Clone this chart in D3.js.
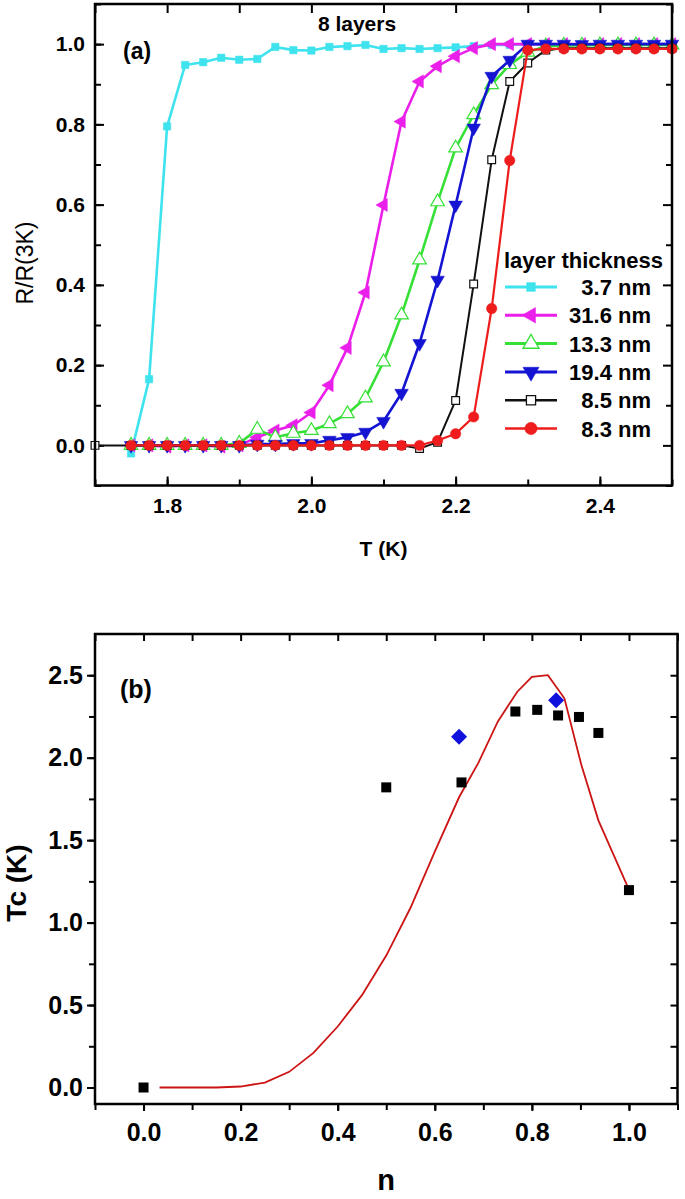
<!DOCTYPE html>
<html><head><meta charset="utf-8">
<script src="https://cdn.jsdelivr.net/npm/d3@7"></script>
<style>
html,body{margin:0;padding:0;background:#fff;}
text{font-family:"Liberation Sans",Arial,sans-serif;}
</style></head>
<body>
<svg id="chart" width="685" height="1199"></svg>
<script>
// ---------- Panel (a) data ----------
const temps = [1.70,1.75,1.775,1.80,1.825,1.85,1.875,1.90,1.925,1.95,1.975,2.00,2.025,2.05,2.075,2.10,2.125,2.15,2.175,2.20,2.225,2.25,2.275,2.30,2.325,2.35,2.375,2.40,2.425,2.45,2.475,2.50];
const cyan37 = [null,-0.02,0.165,0.795,0.948,0.955,0.966,0.961,0.963,0.993,0.985,0.984,0.993,0.995,0.998,0.988,0.99,0.988,0.99,0.992,0.995,0.998,0.998,1.0,1.0,0.999,1.0,1.0,1.0,1.0,1.0,1.0];
const magenta316 = [null,0.0,0.0,-0.003,0.0,0.0,-0.003,0.0,0.02,0.037,0.05,0.082,0.15,0.243,0.381,0.599,0.807,0.907,0.945,0.97,0.99,1.0,1.0,1.0,1.0,1.0,1.0,1.0,1.0,1.0,1.0,1.0];
const green133 = [null,0.0,0.0,0.0,0.0,0.0,0.0,0.005,0.04,0.02,0.03,0.037,0.054,0.079,0.118,0.208,0.325,0.462,0.607,0.741,0.824,0.899,0.949,0.98,0.995,0.997,0.997,0.998,0.998,0.998,0.998,0.998];
const blue194 = [null,0.0,0.0,0.0,0.0,0.0,0.0,0.0,0.003,0.003,0.005,0.005,0.013,0.02,0.033,0.06,0.13,0.254,0.412,0.599,0.791,0.92,0.96,1.0,1.0,1.0,0.999,1.0,1.0,1.0,1.0,1.0];
const black85 = [0.0,0.0,0.0,0.0,0.0,0.0,0.0,0.0,0.0,0.0,0.0,0.0,0.0,0.0,0.0,0.0,0.0,-0.008,0.008,0.112,0.402,0.712,0.907,0.953,0.985,0.99,0.99,0.99,0.99,0.99,0.99,0.99];
const red83 = [null,0.0,0.0,0.0,0.0,0.0,0.0,0.0,0.0,0.0,0.0,0.0,0.0,0.0,0.0,0.0,0.0,0.0,0.012,0.029,0.071,0.341,0.71,0.985,0.988,0.988,0.988,0.988,0.988,0.988,0.988,0.988];
const seriesNames = ["3.7 nm","31.6 nm","13.3 nm","19.4 nm","8.5 nm","8.3 nm"];
const xTicksA = [1.8,2.0,2.2,2.4];
const yTicksA = [0.0,0.2,0.4,0.6,0.8,1.0];

// ---------- Panel (b) data ----------
const nExp = [0.0,0.5,0.655,0.766,0.811,0.854,0.897,0.937,1.0];
const tcExp = [0.0,1.82,1.85,2.28,2.29,2.256,2.247,2.15,1.197];
const nBlue = [0.65,0.85];
const tcBlue = [2.127,2.348];
const nFit = [0.033,0.1,0.15,0.2,0.25,0.3,0.35,0.4,0.45,0.5,0.55,0.6,0.65,0.69,0.73,0.77,0.80,0.833,0.867,0.902,0.937,1.0];
const tcFit = [0.0,0.0,0.0,0.006,0.03,0.095,0.21,0.37,0.56,0.8,1.09,1.43,1.76,1.97,2.22,2.40,2.49,2.50,2.36,1.955,1.62,1.20];
const xTicksB = [0.0,0.2,0.4,0.6,0.8,1.0];
const yTicksB = [0.0,0.5,1.0,1.5,2.0,2.5];

const svg = d3.select("#chart");
const FONT = '"Liberation Sans",Arial,sans-serif';

// ================= Panel (a) =================
const xa = d3.scaleLinear().domain([1.7,2.5]).range([95,672]);
const ya = d3.scaleLinear().domain([-0.1,1.1]).range([485.5,4]);
const ga = svg.append("g");

function styleAxis(g, fs){
  g.select(".domain").remove();
  g.selectAll(".tick line").attr("stroke","#000").attr("stroke-width",2);
  g.selectAll(".tick text").attr("font-size",fs).attr("font-weight","bold").attr("fill","#000").attr("font-family",FONT);
}
const minorXA = d3.range(17,26).map(d=>d/10);
const minorYA = d3.range(-1,12).map(d=>d/10);
// bottom (inside)
ga.append("g").attr("transform","translate(0,485.5)")
  .call(d3.axisBottom(xa).tickValues(minorXA).tickSize(-6).tickFormat(""))
  .call(g=>styleAxis(g,21));
ga.append("g").attr("transform","translate(0,485.5)")
  .call(d3.axisBottom(xa).tickValues(xTicksA).tickSize(-9).tickPadding(13).tickFormat(d3.format(".1f")))
  .call(g=>styleAxis(g,21));
// top (inside)
ga.append("g").attr("transform","translate(0,4)")
  .call(d3.axisTop(xa).tickValues(minorXA).tickSize(-9).tickFormat(""))
  .call(g=>styleAxis(g,21));
// left (inside)
ga.append("g").attr("transform","translate(95,0)")
  .call(d3.axisLeft(ya).tickValues(minorYA).tickSize(-6).tickFormat(""))
  .call(g=>styleAxis(g,21));
ga.append("g").attr("transform","translate(95,0)")
  .call(d3.axisLeft(ya).tickValues(yTicksA).tickSize(-9).tickPadding(10).tickFormat(d3.format(".1f")))
  .call(g=>styleAxis(g,21));
// right (inside)
ga.append("g").attr("transform","translate(672,0)")
  .call(d3.axisRight(ya).tickValues(minorYA.filter((d,i)=>i%2===1)).tickSize(-9).tickFormat(""))
  .call(g=>styleAxis(g,21));
ga.append("g").attr("transform","translate(672,0)")
  .call(d3.axisRight(ya).tickValues(minorYA.filter((d,i)=>i%2===0)).tickSize(-6).tickFormat(""))
  .call(g=>styleAxis(g,21));

const seriesA = [
  {name:seriesNames[0], vals:cyan37, color:"#3ee3ee", sym:d3.symbolSquare, size:55, fill:"#3ee3ee", rot:0, lw:2.6},
  {name:seriesNames[1], vals:magenta316, color:"#ea1fea", sym:d3.symbolTriangle, size:75, fill:"#ea1fea", rot:-90, lw:2.6},
  {name:seriesNames[2], vals:green133, color:"#36e036", sym:d3.symbolTriangle, size:80, fill:"#fff", rot:0, lw:2.6},
  {name:seriesNames[3], vals:blue194, color:"#1414d2", sym:d3.symbolTriangle, size:80, fill:"#1414d2", rot:180, lw:2.6},
  {name:seriesNames[4], vals:black85, color:"#111", sym:d3.symbolSquare, size:60, fill:"#fff", rot:0, lw:2},
  {name:seriesNames[5], vals:red83, color:"#ee1c1c", sym:d3.symbolCircle, size:85, fill:"#ee1c1c", rot:0, lw:2.2}
];
const lineA = d3.line().x(d=>xa(d[0])).y(d=>ya(d[1]));
const plotA = ga.append("g");
seriesA.forEach(s=>{
  const pts = temps.map((t,i)=>[t,s.vals[i]]).filter(d=>d[1]!==null);
  plotA.append("path").datum(pts).attr("d",lineA).attr("fill","none")
    .attr("stroke",s.color).attr("stroke-width",s.lw).attr("stroke-linejoin","round");
  plotA.selectAll(null).data(pts).enter().append("path")
    .attr("d",d3.symbol().type(s.sym).size(s.size))
    .attr("transform",d=>`translate(${xa(d[0])},${ya(d[1])}) rotate(${s.rot})`)
    .attr("fill",s.fill).attr("stroke",s.color).attr("stroke-width",s.fill==="#fff"?1.2:0.5);
});
// frame
ga.append("rect").attr("x",95).attr("y",4).attr("width",577).attr("height",481.5)
  .attr("fill","none").attr("stroke","#000").attr("stroke-width",2.5);

// legend
const leg = ga.append("g");
leg.append("text").attr("x",504).attr("y",268).attr("font-size",22).attr("font-weight","bold").text("layer thickness");
seriesA.forEach((s,i)=>{
  const y = 287 + i*28.3;
  leg.append("line").attr("x1",505).attr("x2",557).attr("y1",y).attr("y2",y).attr("stroke",s.color).attr("stroke-width",s.lw+0.4);
  leg.append("path").attr("d",d3.symbol().type(s.sym).size(s.size*1.4)).attr("transform",`translate(531,${y}) rotate(${s.rot})`)
    .attr("fill",s.fill).attr("stroke",s.color).attr("stroke-width",s.fill==="#fff"?1.3:0.5);
  leg.append("text").attr("x",651).attr("y",y+8).attr("text-anchor","end").attr("font-size",22).attr("font-weight","bold").text(s.name);
});
ga.append("text").attr("x",357).attr("y",31).attr("text-anchor","middle").attr("font-size",21).attr("font-weight","bold").text("8 layers");
ga.append("text").attr("x",123).attr("y",59).attr("font-size",23).attr("font-weight","bold").text("(a)");
ga.append("text").attr("x",383.5).attr("y",556).attr("text-anchor","middle").attr("font-size",21).attr("font-weight","bold").text("T (K)");
ga.append("text").attr("transform","translate(33,263) rotate(-90)").attr("text-anchor","middle").attr("font-size",23).text("R/R(3K)");

// ================= Panel (b) =================
const xb = d3.scaleLinear().domain([-0.1,1.1]).range([95,677.5]);
const yb = d3.scaleLinear().domain([-0.1,2.75]).range([1104,634]);
const gb = svg.append("g");
const minorXB = d3.range(-1,12).map(d=>d/10);
const minorYB = d3.range(0,11).map(d=>d/4);
gb.append("g").attr("transform","translate(0,1104)")
  .call(d3.axisBottom(xb).tickValues(minorXB).tickSize(6).tickFormat(""))
  .call(g=>styleAxis(g,25));
gb.append("g").attr("transform","translate(0,1104)")
  .call(d3.axisBottom(xb).tickValues(xTicksB).tickSize(7).tickPadding(12).tickFormat(d3.format(".1f")))
  .call(g=>styleAxis(g,25));
gb.append("g").attr("transform","translate(0,634)")
  .call(d3.axisTop(xb).tickValues(minorXB).tickSize(-7).tickFormat(""))
  .call(g=>styleAxis(g,25));
gb.append("g").attr("transform","translate(95,0)")
  .call(d3.axisLeft(yb).tickValues(minorYB).tickSize(6).tickFormat(""))
  .call(g=>styleAxis(g,25));
gb.append("g").attr("transform","translate(95,0)")
  .call(d3.axisLeft(yb).tickValues(yTicksB).tickSize(8).tickPadding(4).tickFormat(d3.format(".1f")))
  .call(g=>styleAxis(g,25));
gb.append("g").attr("transform","translate(677.5,0)")
  .call(d3.axisRight(yb).tickValues(minorYB).tickSize(-7).tickFormat(""))
  .call(g=>styleAxis(g,25));

const lineB = d3.line().x(d=>xb(d[0])).y(d=>yb(d[1]));
gb.append("path").datum(nFit.map((n,i)=>[n,tcFit[i]])).attr("d",lineB)
  .attr("fill","none").attr("stroke","#cc1414").attr("stroke-width",1.8);
gb.selectAll(null).data(nExp.map((n,i)=>[n,tcExp[i]])).enter().append("path")
  .attr("d",d3.symbol().type(d3.symbolSquare).size(100))
  .attr("transform",d=>`translate(${xb(d[0])},${yb(d[1])})`).attr("fill","#000");
gb.selectAll(null).data(nBlue.map((n,i)=>[n,tcBlue[i]])).enter().append("path")
  .attr("d",d3.symbol().type(d3.symbolSquare).size(128))
  .attr("transform",d=>`translate(${xb(d[0])},${yb(d[1])}) rotate(45)`).attr("fill","#1111dd");
gb.append("rect").attr("x",95).attr("y",634).attr("width",582.5).attr("height",470)
  .attr("fill","none").attr("stroke","#000").attr("stroke-width",2.5);
gb.append("text").attr("x",120).attr("y",698).attr("font-size",25).attr("font-weight","bold").text("(b)");
gb.append("text").attr("x",386).attr("y",1190).attr("text-anchor","middle").attr("font-size",29).attr("font-weight","bold").text("n");
gb.append("text").attr("transform","translate(26,883) rotate(-90)").attr("text-anchor","middle").attr("font-size",28).attr("font-weight","bold").text("Tc (K)");
</script>
</body></html>
